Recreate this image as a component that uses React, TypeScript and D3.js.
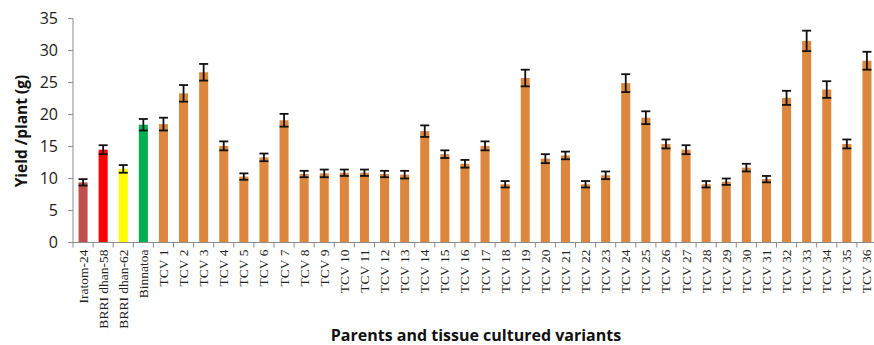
import React from "react";
import * as d3 from "d3";

// Parents and tissue cultured variants (TCV)
const parents = ["Iratom-24", "BRRI dhan-58", "BRRI dhan-62", "Binnatoa"];
const variants = Array.from({ length: 36 }, (_, i) => `TCV ${i + 1}`);
const categories = [...parents, ...variants];

// Mean yield per plant (g)
const parentYield = [9.4, 14.5, 11.5, 18.4];
const variantYield = [
  18.5, 23.3, 26.6, 15.1, 10.3, 13.3, 19.1, 10.7, 10.8, 10.9, 10.9, 10.7,
  10.6, 17.4, 13.8, 12.3, 15.1, 9.1, 25.7, 13.1, 13.6, 9.1, 10.5, 24.9,
  19.5, 15.4, 14.5, 9.1, 9.5, 11.7, 9.9, 22.6, 31.5, 23.9, 15.4, 28.4,
];

// Standard error of each mean
const parentErr = [0.5, 0.7, 0.6, 0.9];
const variantErr = [
  1.0, 1.3, 1.3, 0.7, 0.5, 0.6, 1.0, 0.5, 0.6, 0.5, 0.5, 0.5, 0.6, 0.9,
  0.6, 0.6, 0.7, 0.5, 1.3, 0.7, 0.6, 0.5, 0.6, 1.4, 1.0, 0.7, 0.7, 0.5,
  0.5, 0.6, 0.5, 1.1, 1.6, 1.3, 0.7, 1.4,
];

const parentColors = ["#C0504D", "#FF0000", "#FFFF00", "#00B050"];
const variantColor = "#DC873D";

const yTicks = [0, 5, 10, 15, 20, 25, 30, 35];

const yields = [...parentYield, ...variantYield];
const errors = [...parentErr, ...variantErr];

const W = 874;
const H = 345;
const left = 73;
const right = 877;
const top = 18.5;
const bottom = 242.5;

export default function App() {
  const x = d3.scaleBand<string>().domain(categories).range([left, right]).paddingInner(0.55).paddingOuter(0.275);
  const step = x.step();
  const y = d3.scaleLinear().domain([0, 35]).range([bottom, top]);
  const bw = x.bandwidth();
  const axisColor = "#8C8C8C";

  return (
    <svg
      width={W}
      height={H}
      style={{ position: "absolute", left: 0, top: 0, background: "#fff" }}
    >
      {/* bars */}
      {categories.map((c, i) => (
        <rect
          key={c}
          x={x(c)!}
          y={y(yields[i])}
          width={bw}
          height={bottom - y(yields[i])}
          fill={i < parents.length ? parentColors[i] : variantColor}
        />
      ))}

      {/* error bars */}
      {categories.map((c, i) => {
        const cx = x(c)! + bw / 2;
        const y1 = y(yields[i] + errors[i]);
        const y0 = y(yields[i] - errors[i]);
        const hw = 4.5;
        return (
          <g key={"e" + c} stroke="#111" strokeWidth={1.8}>
            <line x1={cx} x2={cx} y1={y1} y2={y0} />
            <line x1={cx - hw} x2={cx + hw} y1={y1} y2={y1} />
            <line x1={cx - hw} x2={cx + hw} y1={y0} y2={y0} />
          </g>
        );
      })}

      {/* y axis */}
      <line x1={left} x2={left} y1={top} y2={bottom} stroke={axisColor} strokeWidth={1} />
      {yTicks.map((t) => (
        <g key={"y" + t}>
          <line x1={left - 5} x2={left} y1={y(t)} y2={y(t)} stroke={axisColor} />
          <text
            x={left - 15}
            y={y(t)}
            dy="0.36em"
            textAnchor="end"
            fontFamily="'Open Sans', sans-serif"
            fontSize={16}
            fill="#222"
          >
            {t}
          </text>
        </g>
      ))}

      {/* x axis */}
      <line x1={left} x2={right} y1={bottom} y2={bottom} stroke={axisColor} strokeWidth={1} />
      {d3.range(categories.length + 1).map((k) => (
        <line
          key={"xt" + k}
          x1={left + k * step}
          x2={left + k * step}
          y1={bottom}
          y2={bottom + 5}
          stroke={axisColor}
        />
      ))}
      {categories.map((c) => {
        const cx = x(c)! + bw / 2;
        return (
          <text
            key={"xl" + c}
            transform={`translate(${cx + 4.5},${bottom + 7}) rotate(-90)`}
            textAnchor="end"
            fontFamily="'Liberation Serif', 'Times New Roman', serif"
            fontSize={13.5}
            fill="#222"
          >
            {c}
          </text>
        );
      })}

      {/* axis titles */}
      <text
        transform={`translate(27,131) rotate(-90)`}
        textAnchor="middle"
        fontFamily="'Open Sans', sans-serif"
        fontWeight="bold"
        fontSize={15.5}
        fill="#111"
      >
        Yield /plant (g)
      </text>
      <text
        x={476}
        y={341}
        textAnchor="middle"
        fontFamily="'Open Sans', sans-serif"
        fontWeight="bold"
        fontSize={16}
        fill="#111"
      >
        Parents and tissue cultured variants
      </text>
    </svg>
  );
}
